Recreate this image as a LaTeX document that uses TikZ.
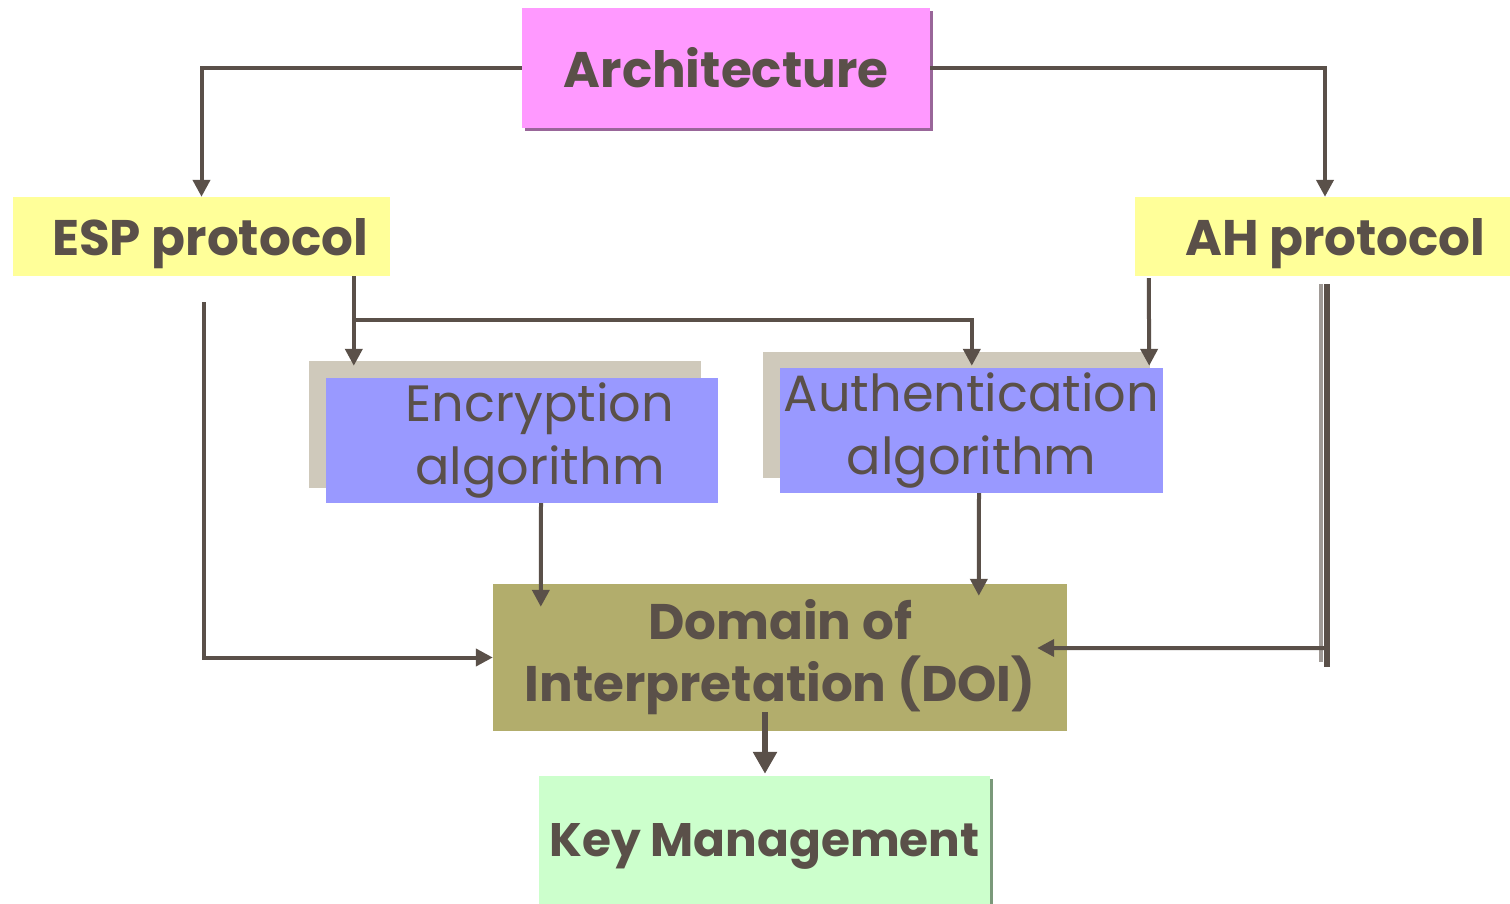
\documentclass[tikz,border=0pt]{standalone}
\usepackage{fontspec}
\setmainfont{Poppins}
\usetikzlibrary{arrows.meta,calc}
\definecolor{ink}{RGB}{90,80,73}
\definecolor{inklight}{RGB}{160,154,150}
\definecolor{archfill}{RGB}{255,153,255}
\definecolor{archshade}{RGB}{153,102,153}
\definecolor{protofill}{RGB}{255,255,153}
\definecolor{algfill}{RGB}{153,153,255}
\definecolor{algshade}{RGB}{207,201,187}
\definecolor{doifill}{RGB}{178,173,108}
\definecolor{keyfill}{RGB}{204,255,204}
\definecolor{keyshade}{RGB}{122,153,122}
\begin{document}
\begin{tikzpicture}[x=1pt,y=-1pt,
  box/.style={inner sep=0pt, align=center, text=ink},
  conn/.style={draw=ink, line width=4pt, -{Triangle[length=17pt,width=17pt]}},
  bigconn/.style={draw=ink, line width=6pt, -{Triangle[length=22pt,width=23pt]}},
  link/.style={draw=ink, line width=4pt},
  heavy/.style={font=\fontsize{50}{62}\selectfont\bfseries},
  plain/.style={font=\fontsize{51}{63}\selectfont}]
\useasboundingbox (0,0) rectangle (1510,904);

% Top box with its drop shadow
\fill[archshade] (525,11) rectangle (933,131);
\node[box,heavy,fill=archfill,minimum width=408pt,minimum height=120pt] (arch) at (726,68) {Architecture};

% Protocol boxes
\node[box,heavy,text depth=0pt,fill=protofill,minimum width=377pt,minimum height=79pt] (esp) at (201.5,236.5) {\hspace*{17pt}ESP protocol};
\node[box,heavy,text depth=0pt,fill=protofill,minimum width=375pt,minimum height=79pt] (ah) at (1322.5,236.5) {\hspace*{26pt}AH protocol};

% Algorithm boxes, each on a grey backing plate
\node[fill=algshade,inner sep=0pt,minimum width=392pt,minimum height=127pt] (encsh) at (505,424.5) {};
\node[box,plain,fill=algfill,minimum width=392pt,minimum height=125pt] (enc) at (522,440.5)
  {\hspace*{36pt}Encryption\\\hspace*{36pt}algorithm};
\node[fill=algshade,inner sep=0pt,minimum width=387pt,minimum height=126pt] (authsh) at (956.5,415) {};
\node[box,plain,fill=algfill,minimum width=383pt,minimum height=125pt] (auth) at (971.5,430.5)
  {Authentication\\algorithm};

% Domain of Interpretation
\node[box,heavy,fill=doifill,minimum width=574pt,minimum height=147pt] (doi) at (780,657.5)
  {Domain of\\Interpretation (DOI)};

% Key management with a thin shadow on its right edge
\fill[keyshade] (542,779) rectangle (993,904);
\node[box,heavy,font=\fontsize{47}{60}\selectfont\bfseries,text depth=0pt,fill=keyfill,minimum width=451pt,minimum height=128pt] (key) at (764.5,840) {Key Management};

% Architecture to the two protocols
\draw[conn] (arch.west) -| (esp.north);
\draw[conn] (arch.east) -| ($(ah.north)+(2.5,0)$);

% ESP to both algorithms
\draw[conn] ($(esp.south west)+(341,0)$) -- ($(encsh.north west)+(45,5)$);
\draw[conn] ($(esp.south west)+(341,44)$) -| ($(auth.north west)+(192,-2)$);

% AH to authentication
\draw[conn] ($(ah.south west)+(14,2)$) -- ($(auth.north east)+(-14,-2)$);

% ESP down and across into DOI
\draw[conn] ($(esp.south west)+(191,26)$) |- (doi.west);

% AH down (doubled stroke) and back into DOI
\coordinate (ahtop) at ($(ah.south west)+(192,8)$);
\draw[inklight, line width=4pt] ($(ahtop)+(-6,0)$) -- ($(ahtop)+(-6,378)$);
\draw[link, line width=6pt] (ahtop) -- ($(ahtop)+(0,383)$);
\draw[conn] ($(ahtop)+(0,364)$) -- ($(doi.east)+(-30,-9.5)$);

% Algorithms into DOI
\draw[conn] ($(enc.south)+(19,0)$) -- ($(doi.north west)+(48,23)$);
\draw[conn] ($(auth.south)+(7.5,0)$) -- ($(doi.north west)+(486,12)$);

% DOI to key management
\draw[bigconn] ($(doi.south)+(-15,-19)$) -- ($(key.north)+(0.5,-2)$);
\end{tikzpicture}
\end{document}
